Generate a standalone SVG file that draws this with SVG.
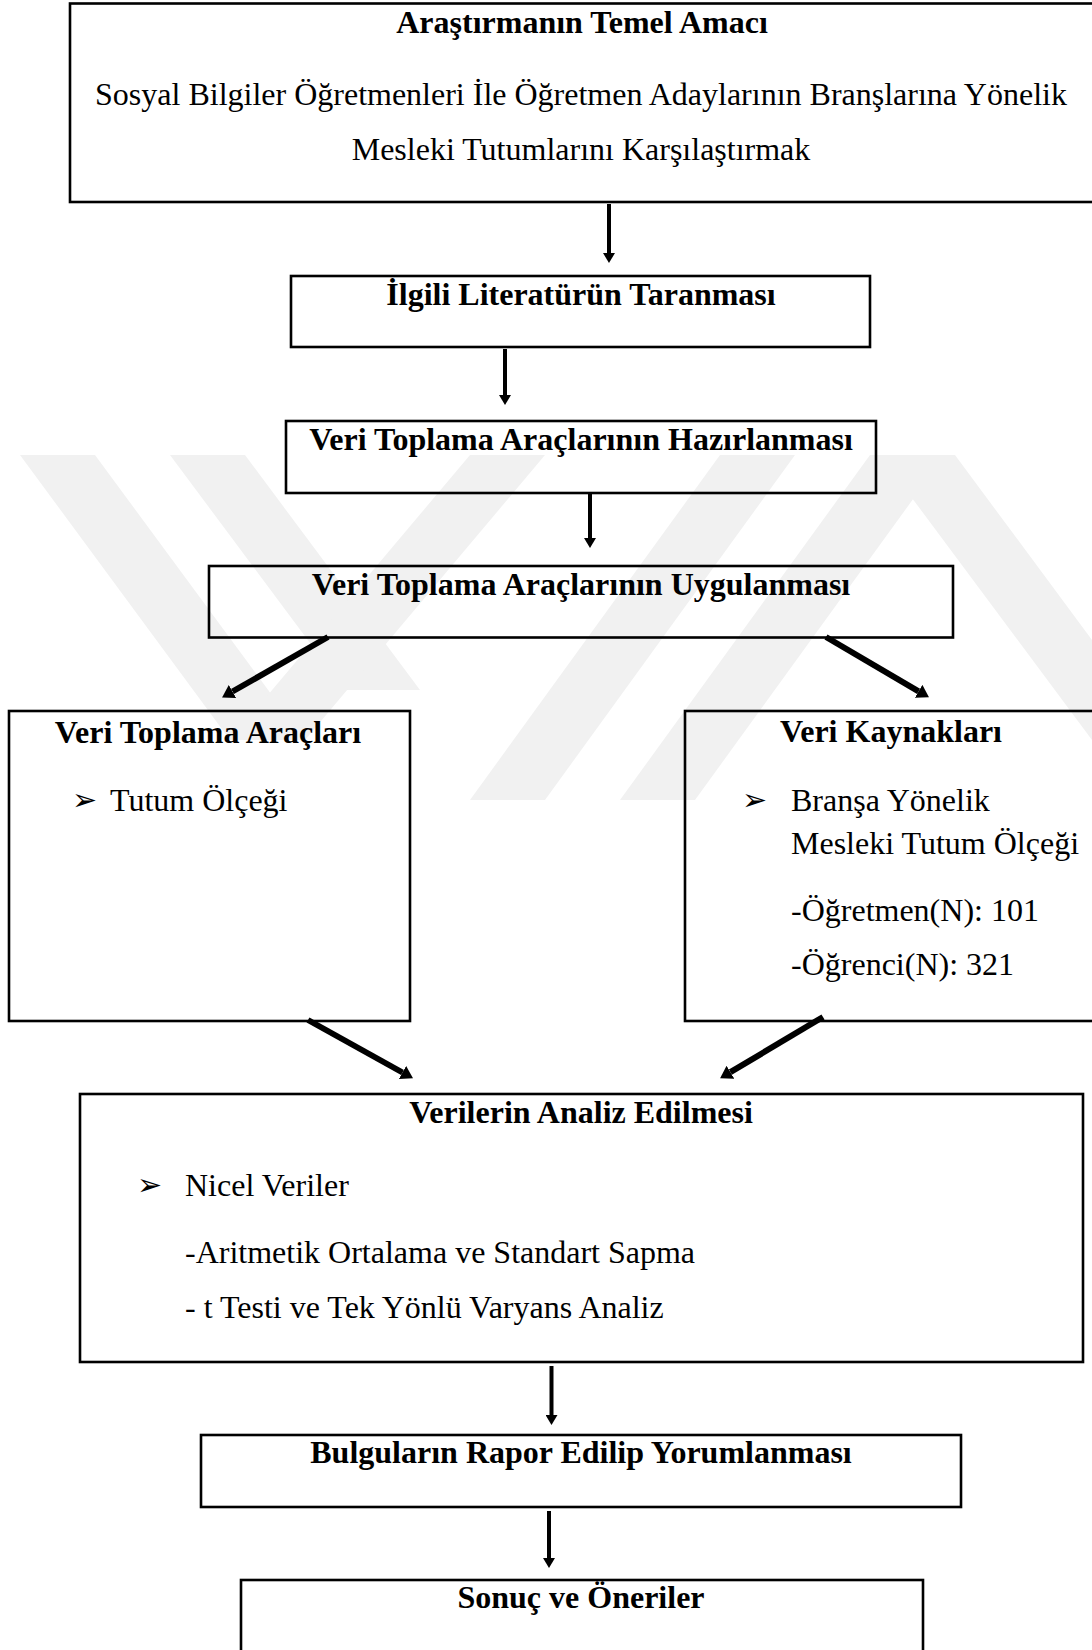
<svg xmlns="http://www.w3.org/2000/svg" width="1092" height="1650" viewBox="0 0 1092 1650">
<style>
.box{fill:none;stroke:#000;stroke-width:2.6}
.t{font-family:"Liberation Serif","Times New Roman",serif;font-size:32px;font-weight:bold;fill:#000;text-anchor:middle}
.b{font-family:"Liberation Serif","Times New Roman",serif;font-size:32px;fill:#000}
.bc{text-anchor:middle}
.bul{font-family:"DejaVu Sans",sans-serif;font-size:30px;fill:#000}
.v{stroke:#000;stroke-width:4;fill:none}
.d{stroke:#000;stroke-width:6;fill:none}
.wm{fill:#f1f1f1}
</style>
<defs>
<marker id="ah" viewBox="0 0 10 10" refX="0" refY="5" markerWidth="10" markerHeight="12" markerUnits="userSpaceOnUse" orient="auto" preserveAspectRatio="none"><path d="M0,0 L10,5 L0,10 z" fill="#000"/></marker>
<marker id="ahd" viewBox="0 0 10 10" refX="0" refY="5" markerWidth="12" markerHeight="15" markerUnits="userSpaceOnUse" orient="auto" preserveAspectRatio="none"><path d="M0,0 L10,5 L0,10 z" fill="#000"/></marker>
</defs>
<rect width="1092" height="1650" fill="#fff"/>
<g id="watermark">
<polygon class="wm" points="20,455 95,455 305,740 230,740"/>
<polygon class="wm" points="170,455 245,455 420,690 345,690"/>
<polygon class="wm" points="230,740 305,740 545,455 470,455"/>
<polygon class="wm" points="470,800 545,800 795,455 720,455"/>
<polygon class="wm" points="620,800 695,800 945,455 870,455"/>
<polygon class="wm" points="880,455 955,455 1092,640 1092,740"/>
</g>
<g id="connectors">
<line class="v" x1="609" y1="204" x2="609" y2="253" marker-end="url(#ah)"/>
<line class="v" x1="505" y1="349" x2="505" y2="395" marker-end="url(#ah)"/>
<line class="v" x1="590" y1="494" x2="590" y2="538" marker-end="url(#ah)"/>
<line class="d" x1="328" y1="637" x2="232.5" y2="691.5" marker-end="url(#ahd)"/>
<line class="d" x1="826" y1="637" x2="918.6" y2="691.3" marker-end="url(#ahd)"/>
<line class="d" x1="308" y1="1020" x2="402.5" y2="1072.5" marker-end="url(#ahd)"/>
<line class="d" x1="823" y1="1017" x2="730.4" y2="1072.2" marker-end="url(#ahd)"/>
<line class="v" x1="551.5" y1="1366" x2="551.5" y2="1415" marker-end="url(#ah)"/>
<line class="v" x1="549" y1="1511" x2="549" y2="1558" marker-end="url(#ah)"/>
</g>
<g id="n1">
<rect class="box" x="70" y="3.5" width="1024" height="198.5"/>
<text class="t" x="582" y="33">Araştırmanın Temel Amacı</text>
<text class="b bc" x="581" y="105">Sosyal Bilgiler Öğretmenleri İle Öğretmen Adaylarının Branşlarına Yönelik</text>
<text class="b bc" x="581" y="160">Mesleki Tutumlarını Karşılaştırmak</text>
</g>
<g id="n2">
<rect class="box" x="291" y="276" width="579" height="71"/>
<text class="t" x="581" y="305">İlgili Literatürün Taranması</text>
</g>
<g id="n3">
<rect class="box" x="286" y="421" width="590" height="72"/>
<text class="t" x="581" y="450">Veri Toplama Araçlarının Hazırlanması</text>
</g>
<g id="n4">
<rect class="box" x="209" y="566" width="744" height="71.5"/>
<text class="t" x="581" y="595">Veri Toplama Araçlarının Uygulanması</text>
</g>
<g id="n5">
<rect class="box" x="9" y="711" width="401" height="310"/>
<text class="t" x="208" y="743">Veri Toplama Araçları</text>
<text class="bul" x="72" y="810">➢</text>
<text class="b" x="110" y="811">Tutum Ölçeği</text>
</g>
<g id="n6">
<rect class="box" x="685" y="711" width="409" height="310"/>
<text class="t" x="891" y="742">Veri Kaynakları</text>
<text class="bul" x="742" y="810">➢</text>
<text class="b" x="791" y="811">Branşa Yönelik</text>
<text class="b" x="791" y="854">Mesleki Tutum Ölçeği</text>
<text class="b" x="791" y="921">-Öğretmen(N): 101</text>
<text class="b" x="791" y="975">-Öğrenci(N): 321</text>
</g>
<g id="n7">
<rect class="box" x="80" y="1094" width="1003" height="268"/>
<text class="t" x="581" y="1123">Verilerin Analiz Edilmesi</text>
<text class="bul" x="137" y="1195">➢</text>
<text class="b" x="185" y="1196">Nicel Veriler</text>
<text class="b" x="185" y="1263">-Aritmetik Ortalama ve Standart Sapma</text>
<text class="b" x="185" y="1318">- t Testi ve Tek Yönlü Varyans Analiz</text>
</g>
<g id="n8">
<rect class="box" x="201" y="1435" width="760" height="72"/>
<text class="t" x="581" y="1463">Bulguların Rapor Edilip Yorumlanması</text>
</g>
<g id="n9">
<rect class="box" x="241" y="1580" width="682" height="90"/>
<text class="t" x="581" y="1608">Sonuç ve Öneriler</text>
</g>
</svg>
